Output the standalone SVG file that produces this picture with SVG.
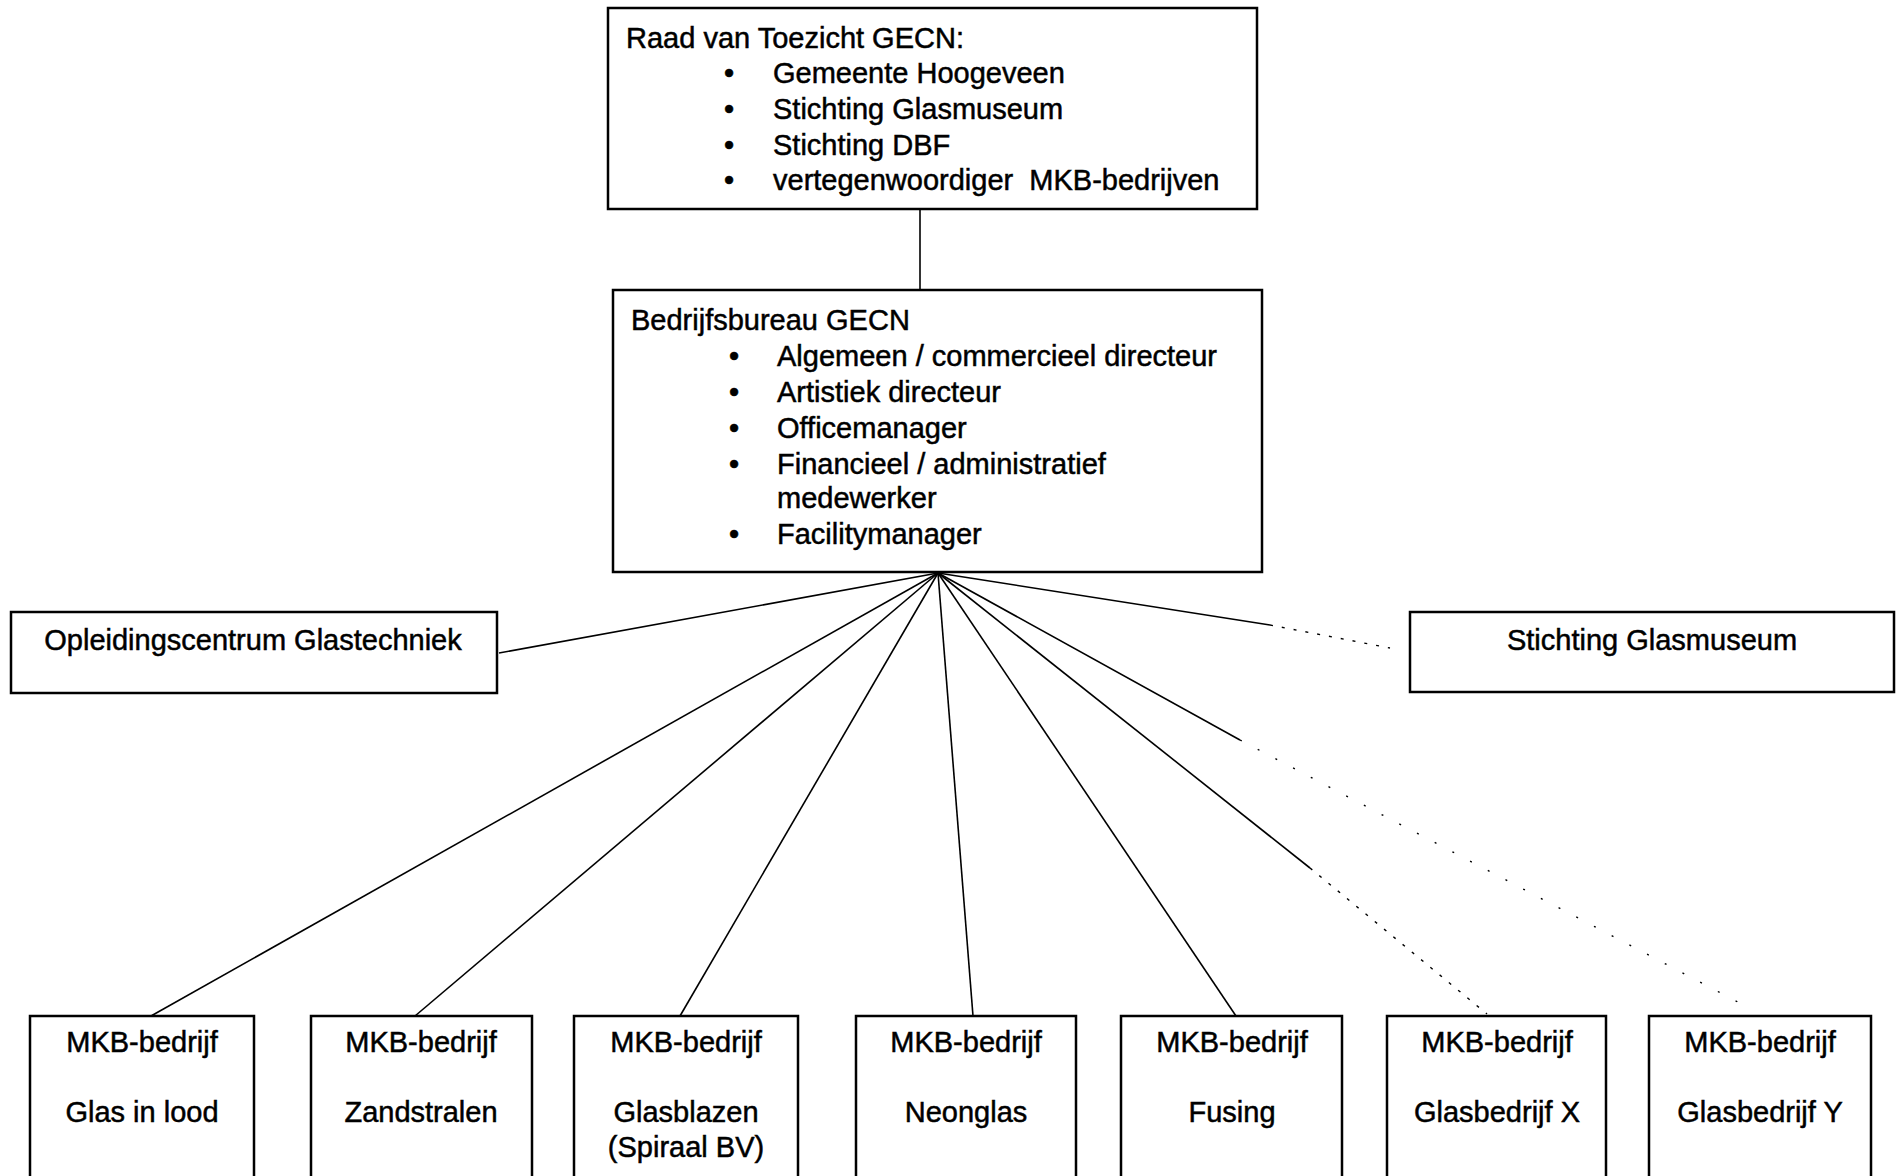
<svg xmlns="http://www.w3.org/2000/svg" width="1896" height="1176" viewBox="0 0 1896 1176">
<style>
.box{fill:#fff;stroke:#000;stroke-width:2.5}
.t{font-family:"Liberation Sans",Arial,sans-serif;font-size:29px;fill:#000;stroke:#000;stroke-width:0.5}
.c{text-anchor:middle}
.ln{stroke:#000;stroke-width:1.6;fill:none}
.dot{stroke:#000;stroke-width:1.4;fill:none;stroke-dasharray:3 9}
.dot2{stroke:#000;stroke-width:1.4;fill:none;stroke-dasharray:2 18}
</style>
<rect width="1896" height="1176" fill="#fff"/>
<g id="connectors">
<line class="ln" x1="920" y1="209" x2="920" y2="290"/>
<line class="ln" x1="938" y1="573" x2="499" y2="653"/>
<line class="ln" x1="938" y1="573" x2="1270" y2="625"/>
<line class="dot" x1="1270" y1="625" x2="1390" y2="648"/>
<line class="ln" x1="938" y1="573" x2="151" y2="1016"/>
<line class="ln" x1="938" y1="573" x2="415" y2="1016"/>
<line class="ln" x1="938" y1="573" x2="680" y2="1016"/>
<line class="ln" x1="938" y1="573" x2="973" y2="1016"/>
<line class="ln" x1="938" y1="573" x2="1236" y2="1016"/>
<line class="ln" x1="938" y1="573" x2="1310" y2="868"/>
<line class="dot" x1="1310" y1="868" x2="1487" y2="1014"/>
<line class="ln" x1="938" y1="573" x2="1240" y2="740"/>
<line class="dot2" x1="1240" y1="740" x2="1753" y2="1010"/>
</g>
<g id="raad">
<rect class="box" x="608" y="8" width="649" height="201"/>
<text class="t" x="626" y="48">Raad van Toezicht GECN:</text>
<text class="t" x="724" y="83">•</text><text class="t" x="773" y="83">Gemeente Hoogeveen</text>
<text class="t" x="724" y="119">•</text><text class="t" x="773" y="119">Stichting Glasmuseum</text>
<text class="t" x="724" y="155">•</text><text class="t" x="773" y="155">Stichting DBF</text>
<text class="t" x="724" y="190">•</text><text class="t" x="773" y="190">vertegenwoordiger&#160; MKB-bedrijven</text>
</g>
<g id="bedrijfsbureau">
<rect class="box" x="613" y="290" width="649" height="282"/>
<text class="t" x="631" y="330">Bedrijfsbureau GECN</text>
<text class="t" x="729" y="366">•</text><text class="t" x="777" y="366">Algemeen / commercieel directeur</text>
<text class="t" x="729" y="402">•</text><text class="t" x="777" y="402">Artistiek directeur</text>
<text class="t" x="729" y="438">•</text><text class="t" x="777" y="438">Officemanager</text>
<text class="t" x="729" y="474">•</text><text class="t" x="777" y="474">Financieel / administratief</text>
<text class="t" x="777" y="508">medewerker</text>
<text class="t" x="729" y="544">•</text><text class="t" x="777" y="544">Facilitymanager</text>
</g>
<g id="opleiding">
<rect class="box" x="11" y="612" width="486" height="81"/>
<text class="t c" x="253" y="650">Opleidingscentrum Glastechniek</text>
</g>
<g id="glasmuseum">
<rect class="box" x="1410" y="612" width="484" height="80"/>
<text class="t c" x="1652" y="650">Stichting Glasmuseum</text>
</g>
<g id="mkb1">
<rect class="box" x="30" y="1016" width="224" height="170"/>
<text class="t c" x="142" y="1052">MKB-bedrijf</text>
<text class="t c" x="142" y="1122">Glas in lood</text>
</g>
<g id="mkb2">
<rect class="box" x="311" y="1016" width="221" height="170"/>
<text class="t c" x="421" y="1052">MKB-bedrijf</text>
<text class="t c" x="421" y="1122">Zandstralen</text>
</g>
<g id="mkb3">
<rect class="box" x="574" y="1016" width="224" height="170"/>
<text class="t c" x="686" y="1052">MKB-bedrijf</text>
<text class="t c" x="686" y="1122">Glasblazen</text>
<text class="t c" x="686" y="1157">(Spiraal BV)</text>
</g>
<g id="mkb4">
<rect class="box" x="856" y="1016" width="220" height="170"/>
<text class="t c" x="966" y="1052">MKB-bedrijf</text>
<text class="t c" x="966" y="1122">Neonglas</text>
</g>
<g id="mkb5">
<rect class="box" x="1121" y="1016" width="221" height="170"/>
<text class="t c" x="1232" y="1052">MKB-bedrijf</text>
<text class="t c" x="1232" y="1122">Fusing</text>
</g>
<g id="mkb6">
<rect class="box" x="1387" y="1016" width="219" height="170"/>
<text class="t c" x="1497" y="1052">MKB-bedrijf</text>
<text class="t c" x="1497" y="1122">Glasbedrijf X</text>
</g>
<g id="mkb7">
<rect class="box" x="1649" y="1016" width="222" height="170"/>
<text class="t c" x="1760" y="1052">MKB-bedrijf</text>
<text class="t c" x="1760" y="1122">Glasbedrijf Y</text>
</g>
</svg>
